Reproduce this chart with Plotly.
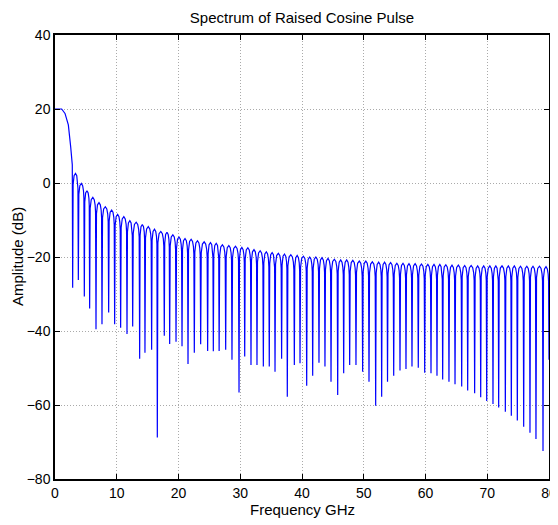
import plotly.graph_objects as go

# ---- data ----
# main lobe (frequency GHz, amplitude dB)
main_f = [0.0, 1.08, 1.62, 2.16, 2.54, 2.80]
main_db = [20.0, 20.0, 18.8, 15.7, 9.8, 4.9]

# spectral nulls (frequency GHz, depth dB)
null_f = [2.86, 3.78, 4.75, 5.61, 6.64, 7.61, 8.69, 9.66, 10.63, 11.66,
          12.58, 13.71, 14.57, 15.65, 16.57, 17.70, 18.57, 19.60, 20.57, 21.54,
          22.56, 23.59, 24.72, 25.64, 26.58, 27.64, 28.66, 29.80, 30.72, 31.74,
          32.71, 33.74, 34.70, 35.63, 36.70, 37.62, 38.76, 39.68, 40.76, 41.73,
          42.75, 43.72, 44.70, 45.78, 46.75, 47.72, 48.74, 49.82, 50.85, 51.93,
          52.90, 53.85, 54.85, 55.87, 56.84, 57.81, 58.83, 59.87, 60.89, 61.86,
          62.78, 63.80, 64.78, 65.86, 66.83, 67.96, 68.94, 69.91, 70.93, 71.85,
          72.93, 73.90, 74.87, 75.90, 76.92, 77.89, 79.03]
null_db = [-28.3, -26.2, -30.7, -33.9, -39.5, -38.2, -35.0, -38.2, -39.1, -40.8,
           -38.8, -47.5, -45.9, -45.1, -68.8, -41.3, -43.5, -42.9, -44.1, -48.9,
           -45.9, -43.6, -45.4, -45.5, -45.4, -45.1, -47.8, -56.6, -46.9, -49.2,
           -49.2, -49.6, -49.6, -51.0, -47.5, -57.8, -49.2, -48.7, -54.8, -52.1,
           -48.6, -49.6, -53.7, -57.3, -51.4, -49.2, -49.2, -51.0, -53.7, -60.2,
           -57.8, -53.7, -52.1, -50.7, -50.3, -49.6, -49.9, -51.3, -51.4, -52.1,
           -53.1, -53.7, -54.4, -55.0, -56.1, -56.8, -57.9, -58.9, -59.7, -60.7,
           -61.8, -62.9, -64.2, -65.9, -67.5, -69.2, -72.4]

# sidelobe peak levels (dB), one per lobe following each null
peak_db = [2.6, -0.1, -2.1, -3.9, -5.3, -6.4, -7.3, -8.5, -9.1, -10.2,
           -10.6, -11.2, -11.8, -12.5, -13.1, -13.3, -14.0, -14.6, -15.0, -15.2,
           -15.6, -15.9, -16.1, -16.3, -16.7, -16.9, -17.1, -17.4, -17.5, -18.0,
           -18.3, -18.6, -18.8, -19.0, -19.2, -19.4, -19.6, -19.8, -20.0, -20.0,
           -20.2, -20.4, -20.6, -20.8, -20.8, -20.9, -21.1, -21.1, -21.3, -21.4,
           -21.4, -21.5, -21.7, -21.7, -21.8, -21.8, -21.9, -22.0, -22.0, -22.0,
           -22.1, -22.2, -22.2, -22.3, -22.3, -22.4, -22.4, -22.4, -22.4, -22.4,
           -22.4, -22.4, -22.5, -22.5, -22.5, -22.5, -22.6]

# end of the trace
end_f = [80.0]
end_db = [-47.8]

x_ticks = [0, 10, 20, 30, 40, 50, 60, 70, 80]
y_ticks = [-80, -60, -40, -20, 0, 20, 40]

# ---- assemble the trace: each lobe drawn as a rounded arch between nulls ----
xs = list(main_f)
ys = list(main_db)
lobe_shape = [(0.08, -3.0), (0.25, -0.6), (0.5, 0.0), (0.72, -0.6), (0.86, -2.0), (0.93, -4.0)]
for i, (nf, nd) in enumerate(zip(null_f, null_db)):
    xs.append(nf)
    ys.append(nd)
    nxt = null_f[i + 1] if i + 1 < len(null_f) else end_f[0]
    w = nxt - nf
    for fr, off in lobe_shape:
        xs.append(nf + fr * w)
        ys.append(peak_db[i] + off)
xs += end_f
ys += end_db

FONT = "Liberation Sans, Arial, sans-serif"

# page body has an 8px margin: figure is 550x517 so the page matches 558x525
W, H = 550, 517
L, R, T, B = 47, 9, 27, 46
PW, PH = W - L - R, H - T - B

fig = go.Figure()
fig.add_trace(go.Scatter(x=xs, y=ys, mode="lines",
                         line=dict(color="#0000ff", width=1.2),
                         hoverinfo="skip", showlegend=False))

axis_common = dict(showline=True, linecolor="black", linewidth=1.5,
                   mirror="ticks", ticks="inside", ticklen=5,
                   tickcolor="black", tickwidth=1,
                   showgrid=True, gridcolor="#aaaaaa", griddash="1px,2px",
                   gridwidth=1, zeroline=False, automargin=False,
                   tickfont=dict(family=FONT, size=14, color="black"))

fig.update_xaxes(range=[0, 80], tickvals=x_ticks, **axis_common)
fig.update_yaxes(range=[-80, 40], tickvals=y_ticks, **axis_common)

fig.update_layout(
    width=W, height=H,
    margin=dict(l=L, r=R, t=T, b=B, autoexpand=False),
    paper_bgcolor="white", plot_bgcolor="white",
    font=dict(family=FONT, color="black"),
    title=dict(text="Spectrum of Raised Cosine Pulse", x=(L + PW / 2) / W, xanchor="center",
               y=1 - 10 / H, yanchor="middle", yref="container",
               font=dict(family=FONT, size=15, color="black")),
    annotations=[
        dict(text="Frequency GHz", xref="paper", yref="paper",
             x=0.5, y=-30 / PH, xanchor="center", yanchor="middle",
             showarrow=False, font=dict(family=FONT, size=15, color="black")),
        dict(text="Amplitude (dB)", xref="paper", yref="paper",
             x=-38 / PW, y=0.5, xanchor="center", yanchor="middle",
             textangle=-90, showarrow=False,
             font=dict(family=FONT, size=15, color="black")),
    ],
)

fig.write_html("out.html")
